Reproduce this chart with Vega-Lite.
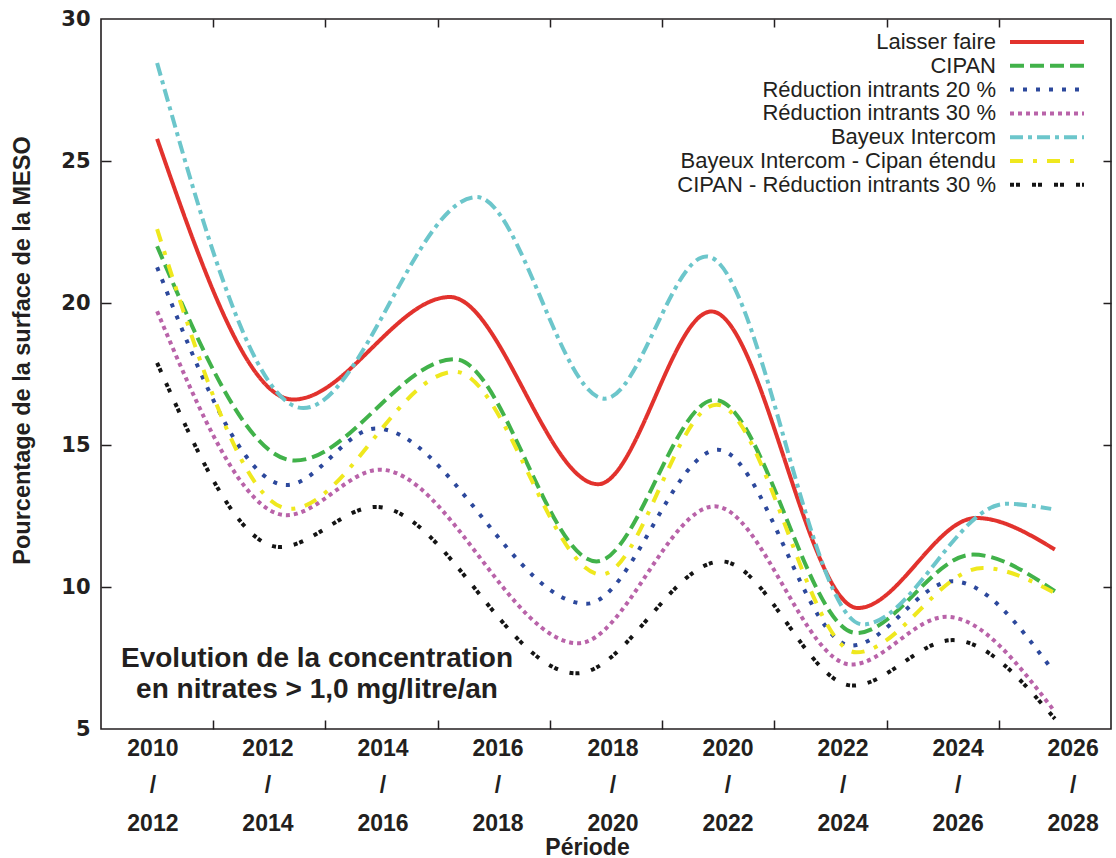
{
  "$schema": "https://vega.github.io/schema/vega-lite/v6.json",
  "width": 1010,
  "height": 710,
  "autosize": "none",
  "padding": {"left": 101, "top": 19, "right": 5, "bottom": 129},
  "background": "white",
  "config": {
    "view": {"stroke": "#231f20", "strokeWidth": 1.6},
    "axis": {"grid": false, "domain": false, "labelColor": "#231f20", "titleColor": "#231f20", "tickColor": "#231f20", "tickWidth": 1.5}
  },
  "datasets": {
    "curves": [
      {"s": "Laisser faire", "t": 0, "v": 25.78},
      {"s": "Laisser faire", "t": 1.214, "v": 16.6},
      {"s": "Laisser faire", "t": 2.609, "v": 20.21},
      {"s": "Laisser faire", "t": 3.93, "v": 13.62},
      {"s": "Laisser faire", "t": 4.939, "v": 19.7},
      {"s": "Laisser faire", "t": 6.245, "v": 9.26},
      {"s": "Laisser faire", "t": 7.299, "v": 12.43},
      {"s": "Laisser faire", "t": 8.0, "v": 11.32},
      {"s": "CIPAN", "t": 0, "v": 22.0},
      {"s": "CIPAN", "t": 1.229, "v": 14.45},
      {"s": "CIPAN", "t": 2.654, "v": 18.02},
      {"s": "CIPAN", "t": 3.915, "v": 10.9},
      {"s": "CIPAN", "t": 4.969, "v": 16.59},
      {"s": "CIPAN", "t": 6.231, "v": 8.38},
      {"s": "CIPAN", "t": 7.269, "v": 11.14},
      {"s": "CIPAN", "t": 8.0, "v": 9.85},
      {"s": "Réduction intrants 20 %", "t": 0, "v": 21.26},
      {"s": "Réduction intrants 20 %", "t": 1.155, "v": 13.59},
      {"s": "Réduction intrants 20 %", "t": 1.95, "v": 15.58},
      {"s": "Réduction intrants 20 %", "t": 3.826, "v": 9.41},
      {"s": "Réduction intrants 20 %", "t": 4.998, "v": 14.83},
      {"s": "Réduction intrants 20 %", "t": 6.186, "v": 7.94},
      {"s": "Réduction intrants 20 %", "t": 7.091, "v": 10.2},
      {"s": "Réduction intrants 20 %", "t": 7.97, "v": 7.12},
      {"s": "Réduction intrants 30 %", "t": 0, "v": 19.71},
      {"s": "Réduction intrants 30 %", "t": 1.155, "v": 12.53},
      {"s": "Réduction intrants 30 %", "t": 1.986, "v": 14.13},
      {"s": "Réduction intrants 30 %", "t": 3.752, "v": 8.02},
      {"s": "Réduction intrants 30 %", "t": 4.969, "v": 12.84},
      {"s": "Réduction intrants 30 %", "t": 6.186, "v": 7.27},
      {"s": "Réduction intrants 30 %", "t": 7.032, "v": 8.95},
      {"s": "Réduction intrants 30 %", "t": 7.98, "v": 5.71},
      {"s": "Bayeux Intercom", "t": 0, "v": 28.45},
      {"s": "Bayeux Intercom", "t": 1.303, "v": 16.3},
      {"s": "Bayeux Intercom", "t": 2.847, "v": 23.73},
      {"s": "Bayeux Intercom", "t": 3.989, "v": 16.63},
      {"s": "Bayeux Intercom", "t": 4.895, "v": 21.64},
      {"s": "Bayeux Intercom", "t": 6.289, "v": 8.68},
      {"s": "Bayeux Intercom", "t": 7.566, "v": 12.93},
      {"s": "Bayeux Intercom", "t": 7.967, "v": 12.75},
      {"s": "Bayeux Intercom - Cipan étendu", "t": 0, "v": 22.6},
      {"s": "Bayeux Intercom - Cipan étendu", "t": 1.184, "v": 12.75},
      {"s": "Bayeux Intercom - Cipan étendu", "t": 2.654, "v": 17.58},
      {"s": "Bayeux Intercom - Cipan étendu", "t": 3.96, "v": 10.44},
      {"s": "Bayeux Intercom - Cipan étendu", "t": 4.984, "v": 16.42},
      {"s": "Bayeux Intercom - Cipan étendu", "t": 6.231, "v": 7.7},
      {"s": "Bayeux Intercom - Cipan étendu", "t": 7.358, "v": 10.67},
      {"s": "Bayeux Intercom - Cipan étendu", "t": 8.0, "v": 9.79},
      {"s": "CIPAN - Réduction intrants 30 %", "t": 0, "v": 17.89},
      {"s": "CIPAN - Réduction intrants 30 %", "t": 1.095, "v": 11.41},
      {"s": "CIPAN - Réduction intrants 30 %", "t": 1.95, "v": 12.82},
      {"s": "CIPAN - Réduction intrants 30 %", "t": 3.737, "v": 6.96},
      {"s": "CIPAN - Réduction intrants 30 %", "t": 5.029, "v": 10.9},
      {"s": "CIPAN - Réduction intrants 30 %", "t": 6.2, "v": 6.53},
      {"s": "CIPAN - Réduction intrants 30 %", "t": 7.091, "v": 8.13},
      {"s": "CIPAN - Réduction intrants 30 %", "t": 8.0, "v": 5.36}
    ],
    "note": [
      {"t": 1.425, "v": 7.45, "label": "Evolution de la concentration\nen nitrates > 1,0 mg/litre/an"}
    ]
  },
  "resolve": {"axis": {"x": "independent", "y": "independent"}},
  "layer": [
    {
      "data": {"name": "curves"},
      "mark": {"type": "line", "interpolate": "monotone", "strokeWidth": 4},
      "encoding": {
        "x": {
          "field": "t", "type": "quantitative",
          "scale": {"domain": [-0.5, 8.5], "nice": false, "zero": false},
          "axis": {
            "orient": "bottom",
            "values": [-0.042, 0.983, 2.008, 3.033, 4.058, 5.083, 6.108, 7.133, 8.158],
            "labelExpr": "[['2010','/','2012'],['2012','/','2014'],['2014','/','2016'],['2016','/','2018'],['2018','/','2020'],['2020','/','2022'],['2022','/','2024'],['2024','/','2026'],['2026','/','2028']][round(datum.value)]",
            "ticks": false,
            "labelFlush": false,
            "labelOverlap": false,
            "labelFont": "Liberation Sans",
            "labelFontWeight": "bold",
            "labelFontSize": 23,
            "labelLineHeight": 37.5,
            "labelBaseline": "top",
            "labelPadding": 8,
            "title": "Période",
            "titleFont": "Liberation Sans",
            "titleFontWeight": "bold",
            "titleFontSize": 23,
            "titleX": 486,
            "titleY": 118,
            "titleBaseline": "middle",
            "titleAlign": "center"
          }
        },
        "y": {
          "field": "v", "type": "quantitative",
          "scale": {"domain": [5, 30], "nice": false, "zero": false},
          "axis": {
            "orient": "left",
            "values": [5, 10, 15, 20, 25, 30],
            "ticks": false,
            "labelFont": "DejaVu Sans",
            "labelFontWeight": "bold",
            "labelFontSize": 21,
            "labelPadding": 11,
            "title": "Pourcentage de la surface de la MESO",
            "titleFont": "Liberation Sans",
            "titleFontWeight": "bold",
            "titleFontSize": 23.5,
            "titleX": -79,
            "titleY": 331,
            "titleAngle": -90,
            "titleBaseline": "middle",
            "titleAlign": "center"
          }
        },
        "color": {
          "field": "s", "type": "nominal",
          "scale": {
            "domain": ["Laisser faire", "CIPAN", "Réduction intrants 20 %", "Réduction intrants 30 %", "Bayeux Intercom", "Bayeux Intercom - Cipan étendu", "CIPAN - Réduction intrants 30 %"],
            "range": ["#e2322d", "#41b24a", "#2c489c", "#b963a9", "#6cc6cb", "#efe81e", "#141414"]
          },
          "legend": {
            "title": null,
            "orient": "none",
            "legendX": 934,
            "legendY": 11,
            "padding": 0,
            "labelFont": "Liberation Sans",
            "labelFontSize": 22,
            "labelColor": "#231f20",
            "labelAlign": "right",
            "labelOffset": -63,
            "symbolType": "M-3.7,0H3.7",
            "symbolSize": 400,
            "symbolStrokeWidth": 4,
            "rowPadding": 0.8,
            "labelLimit": 500
          }
        },
        "strokeDash": {
          "field": "s", "type": "nominal",
          "scale": {
            "domain": ["Laisser faire", "CIPAN", "Réduction intrants 20 %", "Réduction intrants 30 %", "Bayeux Intercom", "Bayeux Intercom - Cipan étendu", "CIPAN - Réduction intrants 30 %"],
            "range": [[1, 0], [14, 6], [4, 9], [4, 4], [13, 5, 4, 5], [13, 10, 4, 10], [4, 2, 4, 12]]
          }
        }
      }
    },
    {
      "data": {"name": "curves"},
      "mark": {"type": "point", "opacity": 0, "size": 0},
      "encoding": {
        "x": {
          "field": "t", "type": "quantitative",
          "scale": {"domain": [-0.5, 8.5], "nice": false, "zero": false},
          "axis": {"orient": "bottom", "values": [0.5, 1.5, 2.5, 3.5, 4.5, 5.5, 6.5, 7.5], "labels": false, "tickSize": -9, "title": null}
        },
        "y": {
          "field": "v", "type": "quantitative",
          "scale": {"domain": [5, 30], "nice": false, "zero": false},
          "axis": {"orient": "left", "values": [10, 15, 20, 25], "labels": false, "tickSize": -10, "title": null}
        }
      }
    },
    {
      "data": {"name": "curves"},
      "mark": {"type": "point", "opacity": 0, "size": 0},
      "encoding": {
        "x": {
          "field": "t", "type": "quantitative",
          "scale": {"domain": [-0.5, 8.5], "nice": false, "zero": false},
          "axis": {"orient": "top", "values": [0.5, 1.5, 2.5, 3.5, 4.5, 5.5, 6.5, 7.5], "labels": false, "tickSize": -8, "title": null}
        },
        "y": {
          "field": "v", "type": "quantitative",
          "scale": {"domain": [5, 30], "nice": false, "zero": false},
          "axis": {"orient": "right", "values": [10, 15, 20, 25], "labels": false, "tickSize": -8, "title": null}
        }
      }
    },
    {
      "data": {"name": "note"},
      "mark": {"type": "text", "font": "Liberation Sans", "fontWeight": "bold", "fontSize": 28, "lineBreak": "\n", "lineHeight": 31, "align": "center", "baseline": "middle", "color": "#231f20"},
      "encoding": {
        "x": {"field": "t", "type": "quantitative", "scale": {"domain": [-0.5, 8.5], "nice": false, "zero": false}, "axis": null},
        "y": {"field": "v", "type": "quantitative", "scale": {"domain": [5, 30], "nice": false, "zero": false}, "axis": null},
        "text": {"field": "label"}
      }
    }
  ]
}
